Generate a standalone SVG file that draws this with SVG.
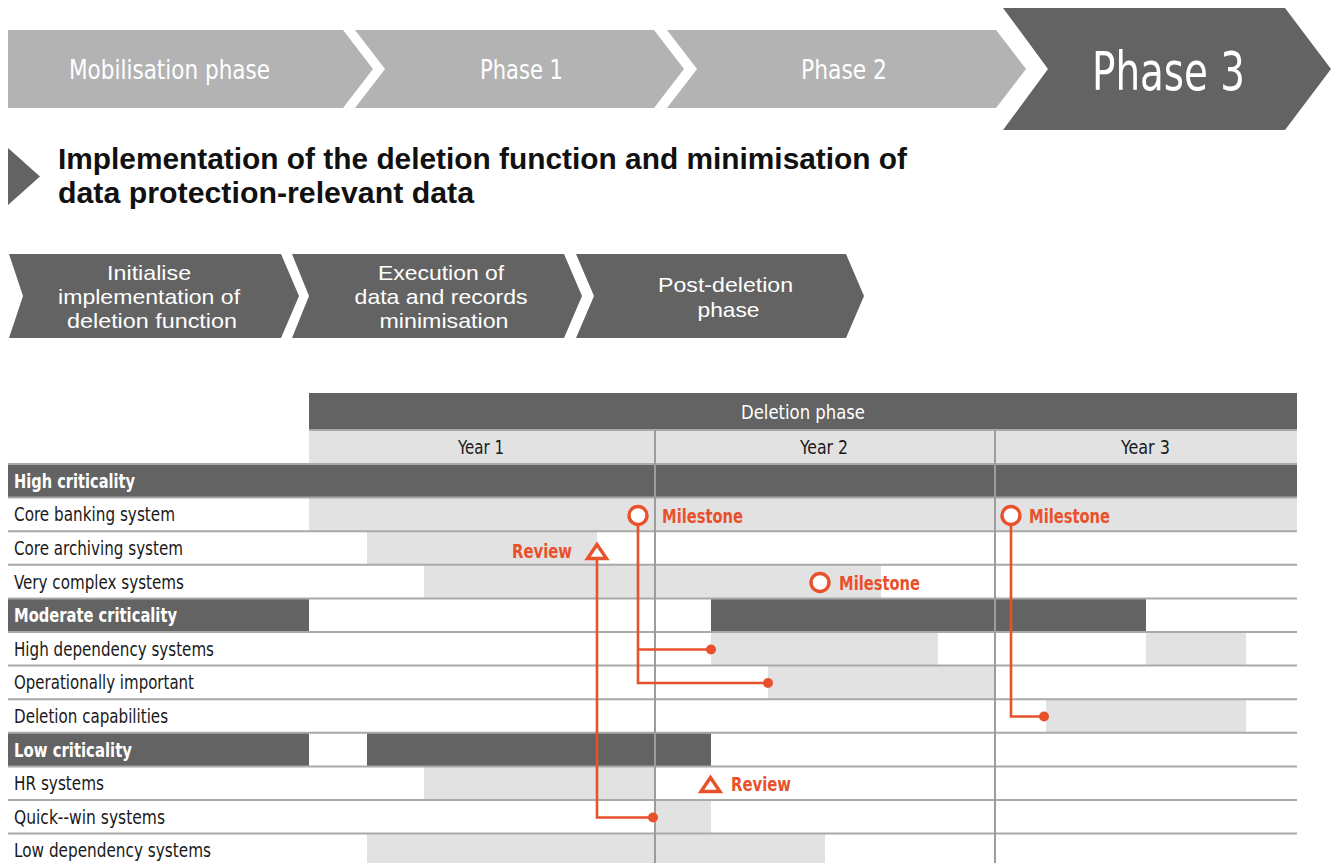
<svg xmlns="http://www.w3.org/2000/svg" width="1335" height="863" viewBox="0 0 1335 863">
  <style>
    .cond { font-family: "Liberation Sans Narrow", "DejaVu Sans Condensed", "Liberation Sans", sans-serif; }
    .sans { font-family: "Liberation Sans", "Arial", sans-serif; }
    .phase-light { fill: #b3b3b3; }
    .dark { fill: #636363; }
    .bar { fill: #e2e2e2; }
    .white-txt { fill: #ffffff; }
    .lbl { fill: #1a1a1a; font-size: 19.5px; }
    .cat { fill: #ffffff; font-size: 19.5px; font-weight: bold; }
    .grid { stroke: #a9a9a9; stroke-width: 2; fill: none; }
    .vgrid { stroke: #9c9c9c; stroke-width: 2; fill: none; }
    .link { stroke: #e8512b; stroke-width: 2.6; fill: none; }
    .dot { fill: #e8512b; }
    .mark { stroke: #e8512b; stroke-width: 3.4; fill: #ffffff; stroke-linejoin: miter; }
    .orange-txt { fill: #e8512b; font-size: 19.5px; font-weight: bold; }
  </style>

  <rect width="1335" height="863" fill="#ffffff"/>

  <!-- Programme phases -->
  <g id="phase-mobilisation">
    <polygon class="phase-light" points="8,30 343,30 373,69 343,108 8,108"/>
    <text class="cond white-txt" x="169.5" y="79" font-size="26" text-anchor="middle" textLength="201" lengthAdjust="spacingAndGlyphs">Mobilisation phase</text>
  </g>
  <g id="phase-1">
    <polygon class="phase-light" points="355,30 654,30 684,69 654,108 355,108 385,69"/>
    <text class="cond white-txt" x="521.5" y="79" font-size="26" text-anchor="middle" textLength="83" lengthAdjust="spacingAndGlyphs">Phase 1</text>
  </g>
  <g id="phase-2">
    <polygon class="phase-light" points="667,30 996,30 1026,69 996,108 667,108 697,69"/>
    <text class="cond white-txt" x="844" y="79" font-size="26" text-anchor="middle" textLength="86" lengthAdjust="spacingAndGlyphs">Phase 2</text>
  </g>
  <g id="phase-3">
    <polygon class="dark" points="1003,8 1285,8 1331,69 1285,130 1003,130 1048,69"/>
    <text class="cond white-txt" x="1168.5" y="90" font-size="54" text-anchor="middle" textLength="153" lengthAdjust="spacingAndGlyphs">Phase 3</text>
  </g>

  <!-- Section title -->
  <g id="title">
    <polygon class="dark" points="8,148 40,176.5 8,205"/>
    <text class="sans" x="58" y="169" font-size="29" font-weight="bold" fill="#111111" textLength="849" lengthAdjust="spacingAndGlyphs">Implementation of the deletion function and minimisation of</text>
    <text class="sans" x="58" y="203" font-size="29" font-weight="bold" fill="#111111" textLength="416" lengthAdjust="spacingAndGlyphs">data protection-relevant data</text>
  </g>

  <!-- Work steps -->
  <g id="step-initialise">
    <polygon class="dark" points="9,254 281,254 299,296 281,338 9,338 23,296"/>
    <text class="sans white-txt" font-size="21" text-anchor="middle">
      <tspan x="152" y="280" textLength="84" lengthAdjust="spacingAndGlyphs">Initialise</tspan>
      <tspan x="152" y="304" textLength="182" lengthAdjust="spacingAndGlyphs">implementation of</tspan>
      <tspan x="152" y="328" textLength="170" lengthAdjust="spacingAndGlyphs">deletion function</tspan>
    </text>
  </g>
  <g id="step-execution">
    <polygon class="dark" points="292,254 564,254 582,296 564,338 292,338 309,296"/>
    <text class="sans white-txt" font-size="21" text-anchor="middle">
      <tspan x="444" y="280" textLength="126" lengthAdjust="spacingAndGlyphs">Execution of</tspan>
      <tspan x="444" y="304" textLength="173" lengthAdjust="spacingAndGlyphs">data and records</tspan>
      <tspan x="444" y="328" textLength="129" lengthAdjust="spacingAndGlyphs">minimisation</tspan>
    </text>
  </g>
  <g id="step-post-deletion">
    <polygon class="dark" points="576,254 846,254 864,296 846,338 576,338 594,296"/>
    <text class="sans white-txt" font-size="21" text-anchor="middle">
      <tspan x="728.5" y="292" textLength="135" lengthAdjust="spacingAndGlyphs">Post-deletion</tspan>
      <tspan x="728.5" y="317" textLength="62" lengthAdjust="spacingAndGlyphs">phase</tspan>
    </text>
  </g>

  <!-- Timeline header -->
  <g id="timeline-header">
    <rect class="dark" x="309" y="393" width="988" height="37"/>
    <text class="cond white-txt" x="803" y="419" font-size="19.5" text-anchor="middle" textLength="124" lengthAdjust="spacingAndGlyphs">Deletion phase</text>
    <rect class="bar" x="309" y="430" width="988" height="34"/>
    <text class="cond lbl" x="481" y="454" text-anchor="middle" textLength="46" lengthAdjust="spacingAndGlyphs">Year 1</text>
    <text class="cond lbl" x="824" y="454" text-anchor="middle" textLength="48" lengthAdjust="spacingAndGlyphs">Year 2</text>
    <text class="cond lbl" x="1145.5" y="454" text-anchor="middle" textLength="49" lengthAdjust="spacingAndGlyphs">Year 3</text>
  </g>

  <!-- Schedule bars -->
  <g id="bars">
    <rect class="dark" x="8" y="464" width="1289" height="33.6"/>
    <rect class="bar" x="309" y="497.6" width="988" height="33.6"/>
    <rect class="bar" x="367" y="531.2" width="230" height="33.6"/>
    <rect class="bar" x="424" y="564.8" width="457" height="33.6"/>
    <rect class="dark" x="8" y="598.4" width="301" height="33.6"/>
    <rect class="dark" x="711" y="598.4" width="435" height="33.6"/>
    <rect class="bar" x="711" y="632" width="227" height="33.6"/>
    <rect class="bar" x="1146" y="632" width="100" height="33.6"/>
    <rect class="bar" x="768" y="665.6" width="227" height="33.6"/>
    <rect class="bar" x="1046" y="699.2" width="200" height="33.6"/>
    <rect class="dark" x="8" y="732.8" width="301" height="33.6"/>
    <rect class="dark" x="367" y="732.8" width="344" height="33.6"/>
    <rect class="bar" x="424" y="766.4" width="231" height="33.6"/>
    <rect class="bar" x="655" y="800" width="56" height="33.6"/>
    <rect class="bar" x="367" y="833.6" width="458" height="33.6"/>
  </g>

  <!-- Grid -->
  <g id="grid">
    <line class="grid" x1="309" y1="430" x2="1297" y2="430" stroke-width="1.5"/>
    <line class="grid" x1="8" y1="464" x2="1297" y2="464"/>
    <line class="grid" x1="8" y1="497.6" x2="1297" y2="497.6"/>
    <line class="grid" x1="8" y1="531.2" x2="1297" y2="531.2"/>
    <line class="grid" x1="8" y1="564.8" x2="1297" y2="564.8"/>
    <line class="grid" x1="8" y1="598.4" x2="1297" y2="598.4"/>
    <line class="grid" x1="8" y1="632" x2="1297" y2="632"/>
    <line class="grid" x1="8" y1="665.6" x2="1297" y2="665.6"/>
    <line class="grid" x1="8" y1="699.2" x2="1297" y2="699.2"/>
    <line class="grid" x1="8" y1="732.8" x2="1297" y2="732.8"/>
    <line class="grid" x1="8" y1="766.4" x2="1297" y2="766.4"/>
    <line class="grid" x1="8" y1="800" x2="1297" y2="800"/>
    <line class="grid" x1="8" y1="833.6" x2="1297" y2="833.6"/>
    <line class="vgrid" x1="655" y1="430" x2="655" y2="863"/>
    <line class="vgrid" x1="995" y1="430" x2="995" y2="863"/>
  </g>

  <!-- Row labels -->
  <g id="row-labels" class="cond">
    <text class="cat" x="14" y="487.8" textLength="121" lengthAdjust="spacingAndGlyphs">High criticality</text>
    <text class="lbl" x="14" y="521.4" textLength="161" lengthAdjust="spacingAndGlyphs">Core banking system</text>
    <text class="lbl" x="14" y="555" textLength="169" lengthAdjust="spacingAndGlyphs">Core archiving system</text>
    <text class="lbl" x="14" y="588.6" textLength="170" lengthAdjust="spacingAndGlyphs">Very complex systems</text>
    <text class="cat" x="14" y="622.2" textLength="163" lengthAdjust="spacingAndGlyphs">Moderate criticality</text>
    <text class="lbl" x="14" y="655.8" textLength="200" lengthAdjust="spacingAndGlyphs">High dependency systems</text>
    <text class="lbl" x="14" y="689.4" textLength="180" lengthAdjust="spacingAndGlyphs">Operationally important</text>
    <text class="lbl" x="14" y="723" textLength="154" lengthAdjust="spacingAndGlyphs">Deletion capabilities</text>
    <text class="cat" x="14" y="756.6" textLength="118" lengthAdjust="spacingAndGlyphs">Low criticality</text>
    <text class="lbl" x="14" y="790.2" textLength="90" lengthAdjust="spacingAndGlyphs">HR systems</text>
    <text class="lbl" x="14" y="823.8" textLength="151" lengthAdjust="spacingAndGlyphs">Quick--win systems</text>
    <text class="lbl" x="14" y="857.4" textLength="197" lengthAdjust="spacingAndGlyphs">Low dependency systems</text>
  </g>

  <!-- Dependency connectors -->
  <g id="connectors">
    <polyline class="link" points="638,524 638,683 768,683"/>
    <polyline class="link" points="638,649.5 711,649.5"/>
    <circle class="dot" cx="711" cy="649.5" r="5"/>
    <circle class="dot" cx="768" cy="683" r="5"/>
    <polyline class="link" points="597,559 597,817.5 653,817.5"/>
    <circle class="dot" cx="653" cy="817.5" r="5"/>
    <polyline class="link" points="1011,524 1011,716.5 1044,716.5"/>
    <circle class="dot" cx="1044" cy="716.5" r="5"/>
  </g>

  <!-- Milestones and reviews -->
  <g id="milestone-core-banking-y1">
    <circle class="mark" cx="638" cy="515.5" r="9"/>
    <text class="cond orange-txt" x="662" y="522.5" textLength="81" lengthAdjust="spacingAndGlyphs">Milestone</text>
  </g>
  <g id="milestone-core-banking-y3">
    <circle class="mark" cx="1011" cy="515.5" r="9"/>
    <text class="cond orange-txt" x="1029" y="522.5" textLength="81" lengthAdjust="spacingAndGlyphs">Milestone</text>
  </g>
  <g id="milestone-very-complex">
    <circle class="mark" cx="820" cy="582.5" r="9"/>
    <text class="cond orange-txt" x="839" y="589.5" textLength="81" lengthAdjust="spacingAndGlyphs">Milestone</text>
  </g>
  <g id="review-core-archiving">
    <polygon class="mark" points="597,544.5 587.5,558.5 606.5,558.5"/>
    <text class="cond orange-txt" x="572" y="557.5" text-anchor="end" textLength="60" lengthAdjust="spacingAndGlyphs">Review</text>
  </g>
  <g id="review-hr">
    <polygon class="mark" points="710.5,777.5 701,791.5 720,791.5"/>
    <text class="cond orange-txt" x="731" y="791" textLength="60" lengthAdjust="spacingAndGlyphs">Review</text>
  </g>
</svg>
